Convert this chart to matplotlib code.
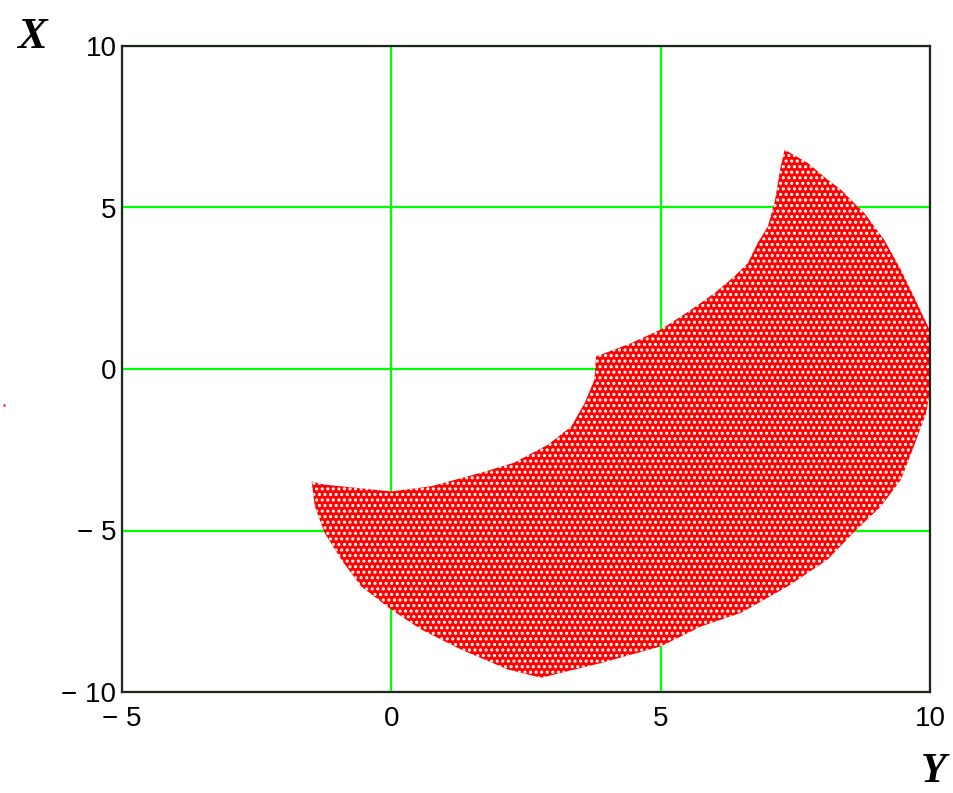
import matplotlib
matplotlib.use("Agg")
import matplotlib.pyplot as plt
from matplotlib.patches import Polygon

# outline of the point cloud (Y horizontal, X vertical)
region_Y = [-1.48, -1.24, 0.00, 0.74, 1.67, 2.28, 2.91, 3.34, 3.59, 3.77, 3.80,
            3.90, 4.45, 5.00, 5.57, 6.00, 6.37, 6.62, 6.80, 6.99, 7.12, 7.22, 7.30,
            7.73, 8.10, 8.35, 8.53, 8.78, 9.15, 9.46, 9.70, 9.99, 10.00, 9.93, 9.70,
            9.46, 9.09, 8.60, 8.10, 7.36, 6.49, 5.75, 5.00, 3.90, 2.78, 2.16, 1.30,
            0.56, 0.00, -0.56, -0.93, -1.24, -1.42]
region_X = [-3.48, -3.58, -3.79, -3.63, -3.21, -2.90, -2.34, -1.78, -1.05, -0.33, 0.39,
            0.45, 0.80, 1.22, 1.84, 2.35, 2.87, 3.28, 3.90, 4.41, 5.20, 6.20, 6.79,
            6.38, 5.86, 5.55, 5.24, 4.83, 4.00, 3.07, 2.25, 1.22, -0.64, -1.36, -2.40,
            -3.43, -4.25, -5.03, -5.90, -6.73, -7.55, -7.97, -8.59, -9.10, -9.56, -9.30, -8.69,
            -8.07, -7.45, -6.73, -5.90, -5.07, -4.26]

# one stray point left of the frame
stray_Y = [-7.19]
stray_X = [-1.10]

xticks = [-5, 0, 5, 10]
xtick_labels = ["\u2212 5", "0", "5", "10"]
yticks = [-10, -5, 0, 5, 10]
ytick_labels = ["\u2212 10", "\u2212 5", "0", "5", "10"]

plt.rcParams['hatch.linewidth'] = 1.5
tick_font = ['Liberation Sans Narrow', 'DejaVu Sans Condensed', 'Liberation Sans']

fig = plt.figure(figsize=(9.54, 7.93), dpi=100)
ax = fig.add_axes([122 / 954, 1 - 692 / 793, 808 / 954, 646 / 793])

ax.set_xlim(-5, 10)
ax.set_ylim(-10, 10)
ax.set_xticks(xticks)
ax.set_xticklabels(xtick_labels, family=tick_font, fontsize=20)
ax.set_yticks(yticks)
ax.set_yticklabels(ytick_labels, family=tick_font, fontsize=20)
ax.tick_params(length=0)
ax.tick_params(axis='x', pad=10)
ax.tick_params(axis='y', pad=4)

ax.set_axisbelow(True)
ax.grid(True, color='#00ff00', linewidth=1.6)
for sp in ax.spines.values():
    sp.set_color('#222222')
    sp.set_linewidth(1.6)

cloud = Polygon(list(zip(region_Y, region_X)), closed=True,
                facecolor='#ff0000', edgecolor='white', hatch='...', linewidth=0)
ax.add_patch(cloud)

ax.scatter(stray_Y, stray_X, s=3, color='#ff0000', clip_on=False, linewidths=0)

fig.text(32 / 954, 1 - 37 / 793, "X", family=['Liberation Serif', 'DejaVu Serif'],
         fontweight='bold', fontstyle='italic', fontsize=32, ha='center', va='center')
fig.text(934 / 954, 1 - 772 / 793, "Y", family=['Liberation Serif', 'DejaVu Serif'],
         fontweight='bold', fontstyle='italic', fontsize=30, ha='center', va='center')

fig.savefig("out.png", dpi=100)
